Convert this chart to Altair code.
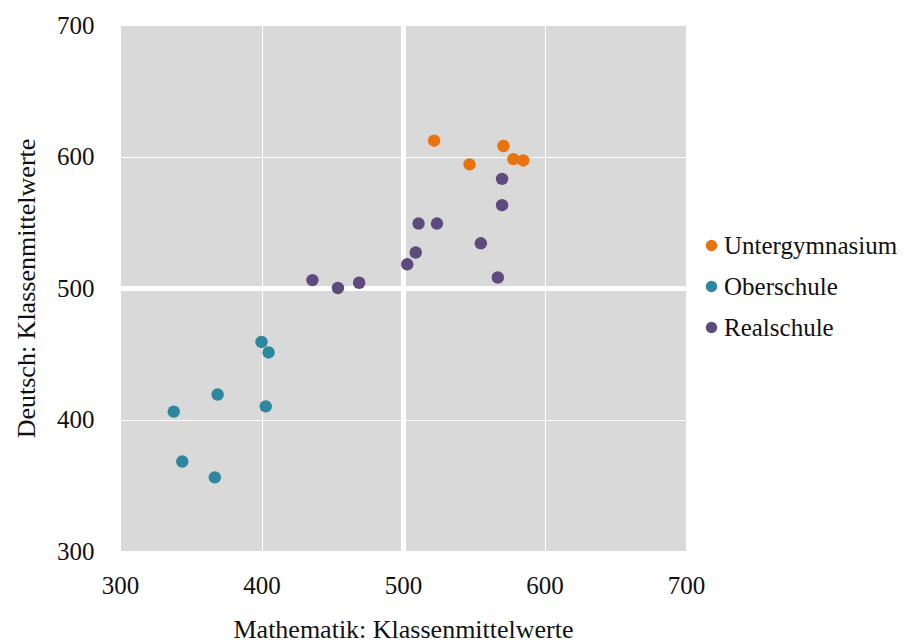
import altair as alt
import pandas as pd

schools = ["Untergymnasium", "Oberschule", "Realschule"]
colors = ["#E8730F", "#2E87A0", "#5E4A7F"]

ug_math = [522, 571, 547, 578, 585]
ug_deutsch = [612, 608, 594, 598, 597]

ob_math = [400, 405, 369, 338, 403, 344, 367]
ob_deutsch = [459, 451, 419, 406, 410, 368, 356]

rs_math = [570, 570, 511, 524, 555, 509, 503, 567, 436, 454, 469]
rs_deutsch = [583, 563, 549, 549, 534, 527, 518, 508, 506, 500, 504]

rows = []
for s, xs, ys in [(schools[0], ug_math, ug_deutsch),
                  (schools[1], ob_math, ob_deutsch),
                  (schools[2], rs_math, rs_deutsch)]:
    for a, b in zip(xs, ys):
        rows.append({"Schule": s, "Mathematik": a, "Deutsch": b})
df = pd.DataFrame(rows)

FONT = "Liberation Serif"
grid_w = {"condition": {"test": "datum.value === 500", "value": 5}, "value": 1}

chart = alt.Chart(df).mark_circle(size=155, opacity=1).encode(
    x=alt.X("Mathematik:Q", title="Mathematik: Klassenmittelwerte",
            scale=alt.Scale(domain=[300, 700], nice=False, zero=False),
            axis=alt.Axis(values=[300, 400, 500, 600, 700], gridWidth=grid_w,
                          labelFlush=False, labelPadding=22, titlePadding=18)),
    y=alt.Y("Deutsch:Q", title="Deutsch: Klassenmittelwerte",
            scale=alt.Scale(domain=[300, 700], nice=False, zero=False),
            axis=alt.Axis(values=[300, 400, 500, 600, 700], gridWidth=grid_w,
                          labelFlush=False, labelPadding=26, titlePadding=17)),
    color=alt.Color("Schule:N", scale=alt.Scale(domain=schools, range=colors),
                    legend=alt.Legend(title=None, orient="none", legendX=579, legendY=208,
                                      symbolSize=130, symbolType="circle",
                                      labelFontSize=25, labelFont=FONT,
                                      labelColor="#111111", labelLimit=0,
                                      labelOffset=0, rowPadding=15, padding=0)),
).properties(
    width=566, height=526,
    padding={"left": 5, "top": 5, "right": 0, "bottom": 0},
).configure_view(
    fill="#D9D9D9", stroke=None
).configure_axis(
    grid=True, gridColor="white", domain=False, ticks=False,
    labelFont=FONT, titleFont=FONT, labelFontSize=25, titleFontSize=26,
    labelColor="#111111", titleColor="#111111", titleFontWeight="normal",
)

chart.save("out.html", embed_options={"renderer": "svg", "actions": False})
